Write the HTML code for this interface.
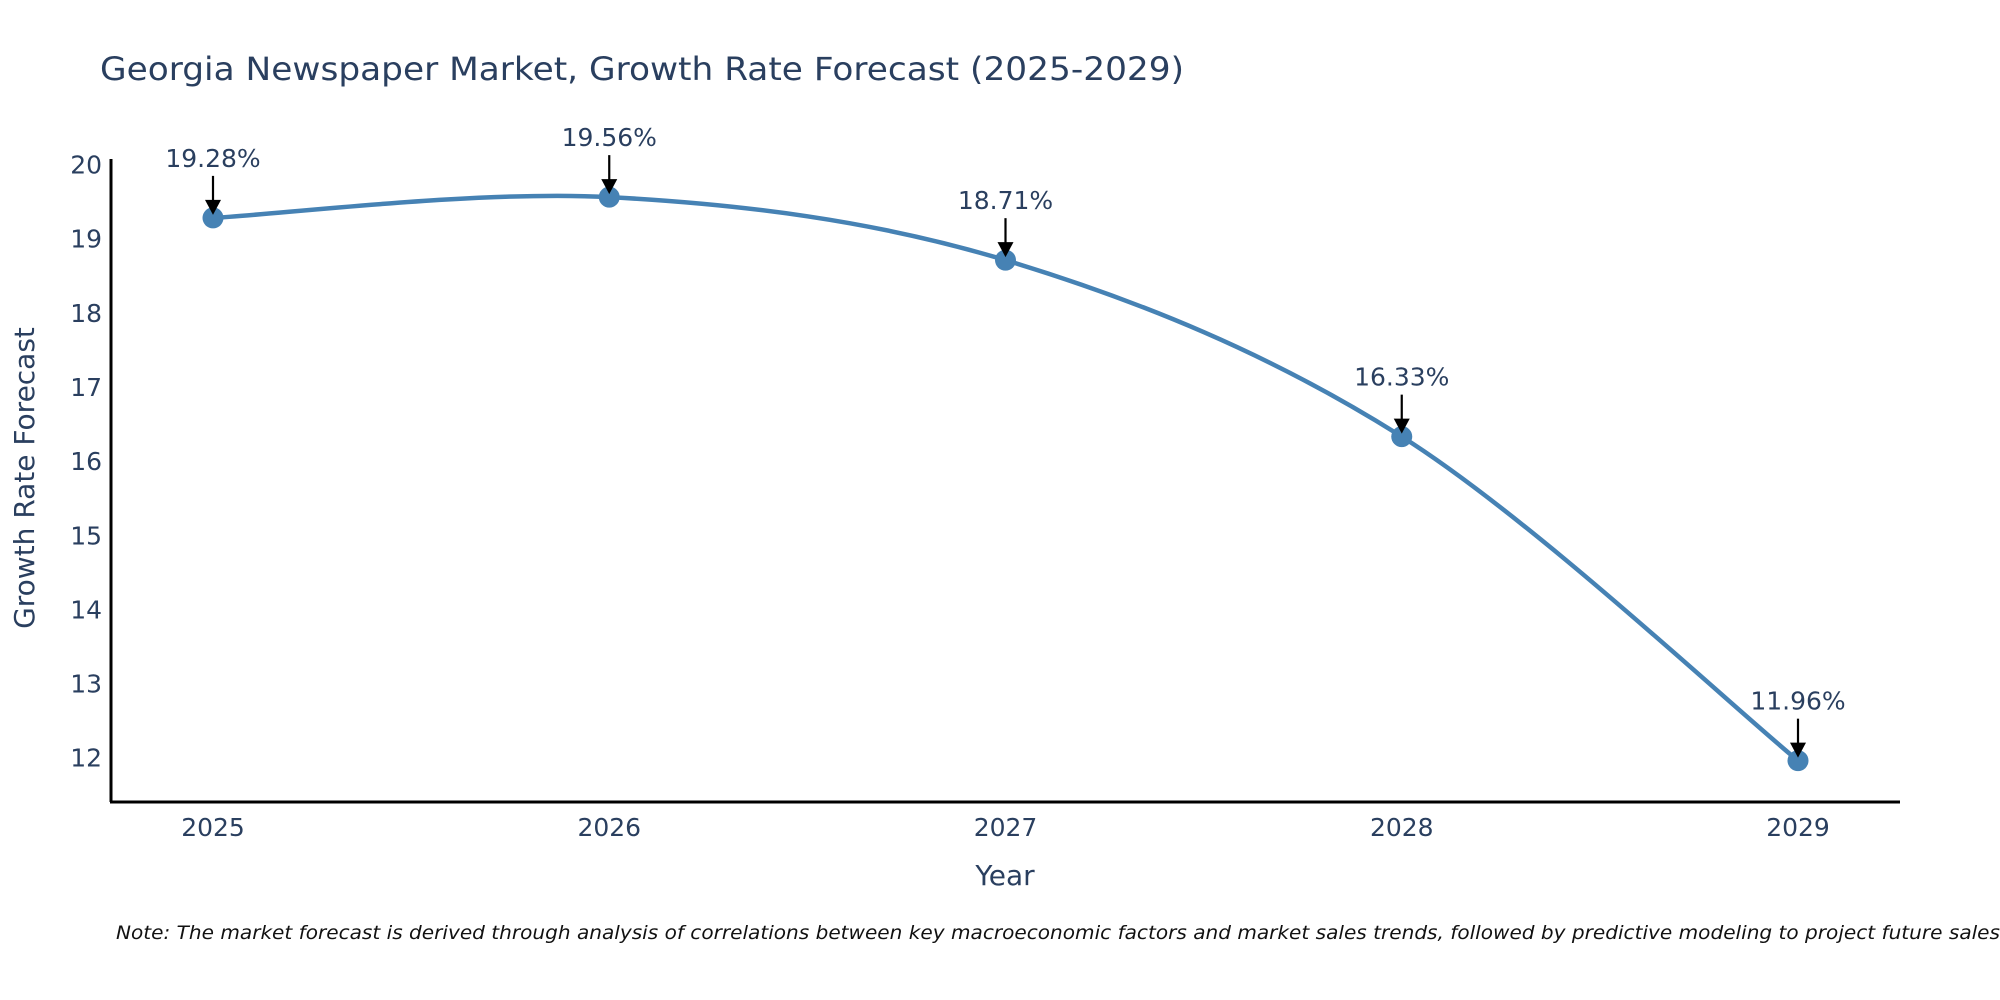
<!DOCTYPE html>
<html><head><meta charset="utf-8"><style>
html,body{margin:0;padding:0;background:#fff;}
svg{display:block;font-family:"DejaVu Sans","Liberation Sans",sans-serif;}
</style></head><body>
<svg id="chart" width="2000" height="1000" viewBox="0 0 2000 1000" xmlns="http://www.w3.org/2000/svg">
<text x="100" y="80" font-size="32" fill="#2a3f5f" textLength="1084" lengthAdjust="spacingAndGlyphs">Georgia Newspaper Market, Growth Rate Forecast (2025-2029)</text>
<g id="yticks"></g>
<g id="xticks"></g>
<line x1="111" y1="159" x2="111" y2="802" stroke="#000" stroke-width="3"/>
<line x1="110" y1="802" x2="1900" y2="802" stroke="#000" stroke-width="3"/>
<text transform="translate(34,478) rotate(-90)" text-anchor="middle" font-size="28" fill="#2a3f5f">Growth Rate Forecast</text>
<text x="1005" y="885" text-anchor="middle" font-size="28" fill="#2a3f5f">Year</text>
<g id="series"></g>
<g id="annots"></g>
<text x="116" y="939" font-size="19" font-style="italic" fill="#111" textLength="1884" lengthAdjust="spacingAndGlyphs">Note: The market forecast is derived through analysis of correlations between key macroeconomic factors and market sales trends, followed by predictive modeling to project future sales</text>
</svg>
<script>
const categories = ["2025","2026","2027","2028","2029"];
const values = [19.28, 19.56, 18.71, 16.33, 11.96];
const valueLabels = ["19.28%","19.56%","18.71%","16.33%","11.96%"];
const yTicks = [12,13,14,15,16,17,18,19,20];

const NS = "http://www.w3.org/2000/svg";
function xScale(i){ return 213 + i * (1798 - 213) / (categories.length - 1); }
function yScale(v){ return 757.7 - (v - 12) * (757.7 - 164.5) / 8; }
function mk(tag, attrs, parent){
  const el = document.createElementNS(NS, tag);
  for (const k in attrs) el.setAttribute(k, attrs[k]);
  parent.appendChild(el); return el;
}
const yt = document.getElementById('yticks');
yTicks.forEach(t => {
  const el = mk('text', {x: 102, y: yScale(t) + 9, 'text-anchor': 'end', 'font-size': 25, fill: '#2a3f5f'}, yt);
  
  
  el.textContent = t;
});
const xt = document.getElementById('xticks');
categories.forEach((c, i) => {
  const el = mk('text', {x: xScale(i), y: 836, 'text-anchor': 'middle', 'font-size': 25, fill: '#2a3f5f'}, xt);
  
  
  el.textContent = c;
});
const pts = values.map((v, i) => [xScale(i), yScale(v)]);
let d = `M${pts[0][0]},${pts[0][1]}`;
for (let i = 0; i < pts.length - 1; i++) {
  const p0 = pts[Math.max(i-1,0)], p1 = pts[i], p2 = pts[i+1], p3 = pts[Math.min(i+2,pts.length-1)];
  const t = 1/6;
  const c1 = [p1[0] + (p2[0]-p0[0])*t, p1[1] + (p2[1]-p0[1])*t];
  const c2 = [p2[0] - (p3[0]-p1[0])*t, p2[1] - (p3[1]-p1[1])*t];
  d += ` C${c1[0]},${c1[1]} ${c2[0]},${c2[1]} ${p2[0]},${p2[1]}`;
}
const series = document.getElementById('series');
const line = mk('path', {d: d, fill: 'none', stroke: '#4682b4', 'stroke-width': 4.5}, series);


const an = document.getElementById('annots');
pts.forEach((p, i) => {
  const c = mk('circle', {cx: p[0], cy: p[1], r: 10.5, fill: '#4682b4'}, series);
  
  
  const l = mk('line', {x1: p[0], y1: p[1] - 42, x2: p[0], y2: p[1] - 14, stroke: '#000', 'stroke-width': 2.2}, an);
  
  
  const h = mk('polygon', {points: `${p[0]-8},${p[1]-18} ${p[0]+8},${p[1]-18} ${p[0]},${p[1]-3}`, fill: '#000'}, an);
  
  
  const tx = mk('text', {x: p[0], y: p[1] - 51, 'text-anchor': 'middle', 'font-size': 25, fill: '#2a3f5f'}, an);
  
  
  tx.textContent = valueLabels[i];
});
</script>
</body></html>
